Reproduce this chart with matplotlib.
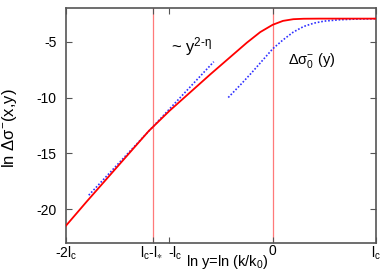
import matplotlib
matplotlib.use("Agg")
import matplotlib.pyplot as plt
from matplotlib.transforms import ScaledTranslation

plt.rcParams['font.family'] = ['Liberation Sans', 'DejaVu Sans']
plt.rcParams['mathtext.fontset'] = 'custom'
plt.rcParams['mathtext.rm'] = 'Liberation Sans'
plt.rcParams['mathtext.it'] = 'Liberation Sans:italic'
plt.rcParams['mathtext.default'] = 'regular'
plt.rcParams['axes.unicode_minus'] = False

# data (x in units of l_c)
red_x = [-2.0, -1.8, -1.6, -1.4, -1.2, -1.0, -0.8, -0.6, -0.4, -0.25, -0.12, 0.0, 0.1, 0.2, 0.3, 0.45, 1.0]
red_y = [-21.45, -19.3, -17.2, -15.1, -13.0, -11.2, -9.55, -7.9, -6.3, -5.1, -4.15, -3.5, -3.15, -3.0, -2.96, -2.95, -2.95]

pow_x = [-1.78, -0.57]
pow_y = [-18.73, -6.8]

sig0_x = [-0.43, -0.3, -0.2, -0.1, 0.0, 0.1, 0.2, 0.3, 0.4, 0.5, 0.65, 0.8, 1.0]
sig0_y = [-10.0, -8.75, -7.75, -6.7, -5.65, -4.85, -4.15, -3.65, -3.35, -3.17, -3.05, -2.99, -2.96]

vlines_x = [-1.155, 0.0]
xtick_pos = [-2.0, -1.155, -1.0, 0.0, 1.0]
xtick_lab = ['-2l$_c$', r'l$_c$-l$_{\ast}$', '-l$_c$', '0', 'l$_c$']
ytick_pos = [-5, -10, -15, -20]

fig = plt.figure(figsize=(3.89, 2.73), dpi=100)
ax = fig.add_axes([0.1697, 0.1099, 0.7969, 0.8608])

for xv in vlines_x:
    ax.axvline(xv, color='#ff7a7a', lw=0.9, zorder=1)

ax.plot(red_x, red_y, color='#ff0000', lw=1.3, zorder=3)
ax.plot(pow_x, pow_y, color='#3030ff', lw=1.2, ls=(0, (1, 1.1)), zorder=2)
ax.plot(sig0_x, sig0_y, color='#3030ff', lw=1.2, ls=(0, (1, 1.1)), zorder=2)

ax.set_xlim(-2.0, 1.0)
ax.set_ylim(-23, -2)
ax.set_xticks(xtick_pos)
ax.set_xticklabels(xtick_lab)
ax.set_yticks(ytick_pos)
ax.tick_params(direction='in', top=True, right=True, length=4, width=0.8,
               labelsize=10, color='#555555')
ax.tick_params(axis='y', pad=7)
ax.tick_params(axis='x', pad=1)
for s in ax.spines.values():
    s.set_color('#555555')
    s.set_linewidth(1.2)

# small horizontal nudges of crowded tick labels
labs = ax.get_xticklabels()
labs[1].set_transform(labs[1].get_transform() + ScaledTranslation(-2 / 100, 0, fig.dpi_scale_trans))
labs[2].set_transform(labs[2].get_transform() + ScaledTranslation(6 / 100, 0, fig.dpi_scale_trans))

ax.set_xlabel('ln y=ln (k/k$_0$)', fontsize=10.5)
ax.xaxis.set_label_coords(0.52, -0.042, transform=ax.transAxes)
ax.xaxis.label.set_va('top')
ax.set_ylabel(r'ln $\Delta\sigma^{-}$(x,y)', fontsize=12)
ax.yaxis.set_label_coords(-0.152, 0.49)

ax.text(-0.98, -6.0, r'~ y$^{2\text{-}\eta}$', fontsize=12)
ax.text(0.145, -7.0, r'$\Delta\sigma^{-}_{0}$ (y)', fontsize=10.5)

fig.savefig('out.png', dpi=100)
